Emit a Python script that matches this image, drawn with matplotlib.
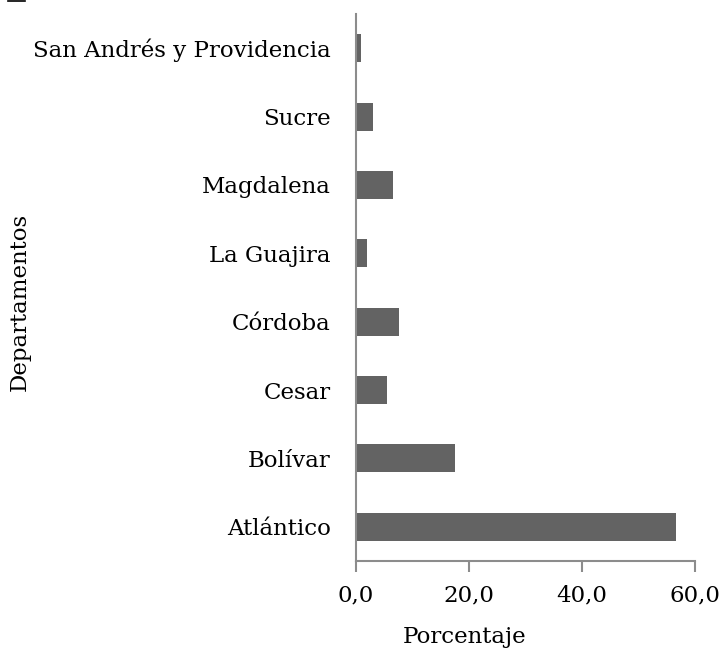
import matplotlib.pyplot as plt
from matplotlib.lines import Line2D

departamentos = ['Atlántico', 'Bolívar', 'Cesar', 'Córdoba', 'La Guajira',
                 'Magdalena', 'Sucre', 'San Andrés y Providencia']
porcentaje = [56.6, 17.5, 5.5, 7.6, 1.9, 6.5, 3.0, 0.9]
xticks = [0, 20, 40, 60]
xtick_labels = ['0,0', '20,0', '40,0', '60,0']

plt.rcParams['font.family'] = ['DejaVu Serif']
fs = 16.5

fig = plt.figure(figsize=(7.25, 6.52), dpi=100)
ax = fig.add_axes([0.491, 0.1396, 0.4675, 0.8389])

ax.barh(range(len(departamentos)), porcentaje, height=0.41, color='#636363')

ax.set_xlim(0, 60)
ax.set_ylim(-0.5, len(departamentos) - 0.5)
ax.set_yticks(range(len(departamentos)))
ax.set_yticklabels(departamentos, fontsize=fs)
ax.set_xticks(xticks)
ax.set_xticklabels(xtick_labels, fontsize=fs)

for s in ['top', 'right']:
    ax.spines[s].set_visible(False)
for s in ['left', 'bottom']:
    ax.spines[s].set_color('#8c8c8c')
    ax.spines[s].set_linewidth(1.5)
ax.tick_params(axis='y', length=0, pad=18)
ax.tick_params(axis='x', length=8, width=1.5, color='#8c8c8c', pad=9)

fig.text(465 / 725, 1 - 637 / 652, 'Porcentaje', fontsize=fs,
         ha='center', va='center')
fig.text(20 / 725, 1 - 302 / 652, 'Departamentos', rotation=90, fontsize=fs,
         ha='center', va='center')

# pequeño trazo en la esquina
fig.add_artist(Line2D([0.011, 0.034], [0.998, 0.998], color='black', lw=1.2))

plt.savefig('out.png')
